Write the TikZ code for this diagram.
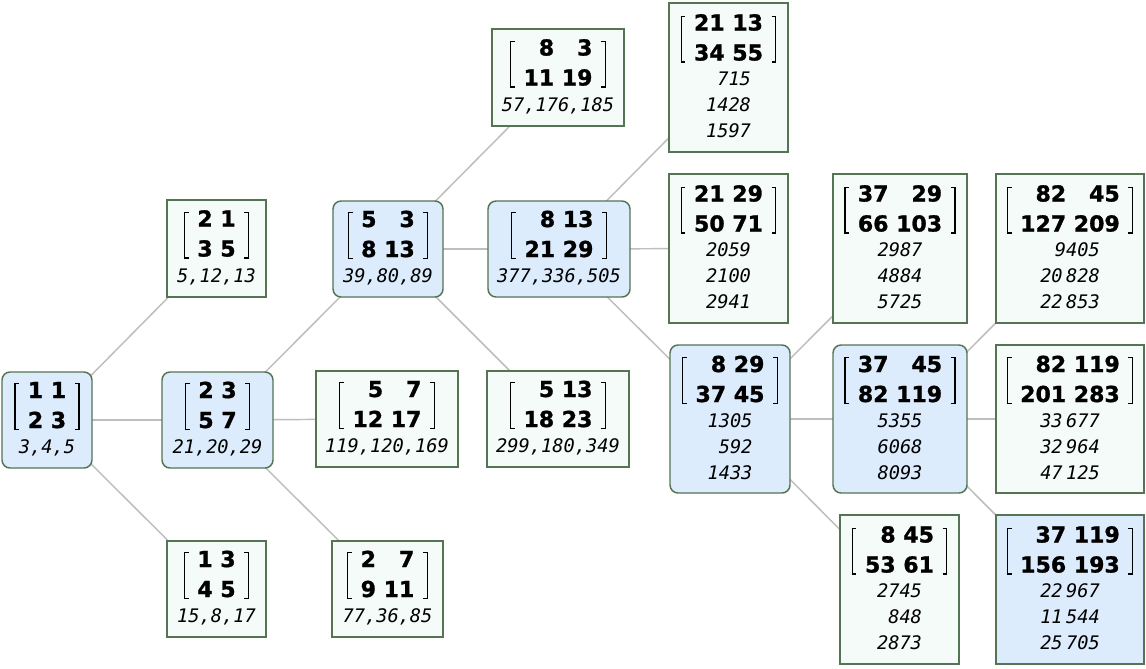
\documentclass[tikz,border=0pt]{standalone}
\usepackage{fontspec}
\setmonofont{DejaVu Sans Mono}[BoldFont={DejaVu Sans Mono Bold},ItalicFont={DejaVu Sans Mono Oblique},BoldItalicFont={DejaVu Sans Mono Bold Oblique}]
\newfontface\matfont{DejaVu Sans Bold}[FakeBold=1.2]
\usetikzlibrary{backgrounds}

\definecolor{edgegray}{RGB}{190,190,190}
\definecolor{bordergreen}{RGB}{84,116,84}
\definecolor{fillgreen}{RGB}{245,251,248}
\definecolor{fillblue}{RGB}{221,236,253}

\newcommand\mlbrk{\hbox{\rlap{\rule[-1.5pt]{0.9pt}{35.25pt}}\rlap{\rule[-1.5pt]{3.6pt}{0.9pt}}\rule[32.85pt]{3.6pt}{0.9pt}}\hspace{6.5pt}}
\newcommand\mrbrk{\hspace{6.5pt}\hbox{\rlap{\rule[-1.5pt]{3.6pt}{0.9pt}}\rlap{\rule[32.85pt]{3.6pt}{0.9pt}}\hspace{2.7pt}\rule[-1.5pt]{0.9pt}{35.25pt}}}
\newcommand\mtx[4]{{\matfont\fontsize{16.5}{22.5}\selectfont\mlbrk\begin{tabular}[b]{@{}r@{\ }r@{}}#1&#2\\#3&#4\end{tabular}\mrbrk}}
\newcommand\lst[1]{{\ttfamily\itshape\fontsize{14}{19.5}\selectfont\begin{tabular}[t]{@{}r@{}}#1\end{tabular}}}
\newcommand\one[1]{{\ttfamily\itshape\fontsize{14}{19.5}\selectfont #1}}
\newcommand\ts{\hspace{2.5pt}}

\tikzset{
  cell/.style={draw=bordergreen, line width=1.1pt, fill=fillgreen, inner sep=0pt},
  hl/.style={fill=fillblue},
  rnd/.style={rounded corners=6pt},
  sz/.style 2 args={minimum width=#1*0.75pt, minimum height=#2*0.75pt},
  txt/.style={anchor=base, inner sep=0pt},
  link/.style={draw=edgegray, line width=1.1pt}
}

\begin{document}
\begin{tikzpicture}[x=0.75pt,y=-0.75pt]
\useasboundingbox (0,0) rectangle (1146,668);

% level 0
\node[cell,hl,rnd,sz={90}{96}] (n1) at (47,420) {};
\node[txt] (m1) at (47,428) {\mtx{1}{1}{2}{3}};
\node[txt] (t1) at (47,453.5) {\one{3,4,5}};

% level 1
\node[cell,sz={99}{97}] (n2) at (216.5,248.5) {};
\node[txt] (m2) at (216.5,256.5) {\mtx{2}{1}{3}{5}};
\node[txt] (t2) at (216.5,282) {\one{5,12,13}};

\node[cell,hl,rnd,sz={111}{96}] (n3) at (217.5,420) {};
\node[txt] (m3) at (217.5,428) {\mtx{2}{3}{5}{7}};
\node[txt] (t3) at (217.5,453.5) {\one{21,20,29}};

\node[cell,sz={99}{96}] (n4) at (216.5,589) {};
\node[txt] (m4) at (216.5,597) {\mtx{1}{3}{4}{5}};
\node[txt] (t4) at (216.5,622.5) {\one{15,8,17}};

% level 2
\node[cell,hl,rnd,sz={110}{96}] (n5) at (388,249) {};
\node[txt] (m5) at (388,257) {\mtx{5}{3}{8}{13}};
\node[txt] (t5) at (388,282.5) {\one{39,80,89}};

\node[cell,sz={142}{96}] (n6) at (387,419) {};
\node[txt] (m6) at (387,427) {\mtx{5}{7}{12}{17}};
\node[txt] (t6) at (387,452.5) {\one{119,120,169}};

\node[cell,sz={111}{96}] (n7) at (387.5,589) {};
\node[txt] (m7) at (387.5,597) {\mtx{2}{7}{9}{11}};
\node[txt] (t7) at (387.5,622.5) {\one{77,36,85}};

% level 3
\node[cell,sz={132}{97}] (n8) at (558,77.5) {};
\node[txt] (m8) at (558,85.5) {\mtx{8}{3}{11}{19}};
\node[txt] (t8) at (558,111) {\one{57,176,185}};

\node[cell,hl,rnd,sz={142}{96}] (n9) at (559,249) {};
\node[txt] (m9) at (559,257) {\mtx{8}{13}{21}{29}};
\node[txt] (t9) at (559,282.5) {\one{377,336,505}};

\node[cell,sz={142}{96}] (n10) at (558,419) {};
\node[txt] (m10) at (558,427) {\mtx{5}{13}{18}{23}};
\node[txt] (t10) at (558,452.5) {\one{299,180,349}};

% level 4
\node[cell,sz={119}{149}] (n11) at (728.5,77.5) {};
\node[txt] (m11) at (728.5,60.5) {\mtx{21}{13}{34}{55}};
\node[txt] (t11) at (728.5,85.5) {\lst{715\\1428\\1597}};

\node[cell,sz={119}{149}] (n12) at (728.5,248.5) {};
\node[txt] (m12) at (728.5,231.5) {\mtx{21}{29}{50}{71}};
\node[txt] (t12) at (728.5,256.5) {\lst{2059\\2100\\2941}};

\node[cell,hl,rnd,sz={120}{148}] (n13) at (730,419) {};
\node[txt] (m13) at (730,402) {\mtx{8}{29}{37}{45}};
\node[txt] (t13) at (730,427) {\lst{1305\\592\\1433}};

% level 5
\node[cell,sz={134}{149}] (n14) at (900,248.5) {};
\node[txt] (m14) at (900,231.5) {\mtx{37}{29}{66}{103}};
\node[txt] (t14) at (900,256.5) {\lst{2987\\4884\\5725}};

\node[cell,hl,rnd,sz={134}{148}] (n15) at (900,419) {};
\node[txt] (m15) at (900,402) {\mtx{37}{45}{82}{119}};
\node[txt] (t15) at (900,427) {\lst{5355\\6068\\8093}};

\node[cell,sz={119}{149}] (n16) at (899.5,589.5) {};
\node[txt] (m16) at (899.5,572.5) {\mtx{8}{45}{53}{61}};
\node[txt] (t16) at (899.5,597.5) {\lst{2745\\848\\2873}};

% level 6
\node[cell,sz={148}{149}] (n17) at (1070,248.5) {};
\node[txt] (m17) at (1070,231.5) {\mtx{82}{45}{127}{209}};
\node[txt] (t17) at (1070,256.5) {\lst{9405\\20\ts828\\22\ts853}};

\node[cell,sz={148}{148}] (n18) at (1070,419) {};
\node[txt] (m18) at (1070,402) {\mtx{82}{119}{201}{283}};
\node[txt] (t18) at (1070,427) {\lst{33\ts677\\32\ts964\\47\ts125}};

\node[cell,hl,sz={148}{149}] (n19) at (1070,589.5) {};
\node[txt] (m19) at (1070,572.5) {\mtx{37}{119}{156}{193}};
\node[txt] (t19) at (1070,597.5) {\lst{22\ts967\\11\ts544\\25\ts705}};

\begin{pgfonlayer}{background}
\fill[white] (0,0) rectangle (1146,668);
\foreach \a/\b in {n1/n2,n1/n3,n1/n4,n3/n5,n3/n6,n3/n7,n5/n8,n5/n9,n5/n10,n9/n11,n9/n12,n9/n13,n13/n14,n13/n15,n13/n16,n15/n17,n15/n18,n15/n19}
  \draw[link] (\a.center) -- (\b.center);
\end{pgfonlayer}
\end{tikzpicture}
\end{document}
